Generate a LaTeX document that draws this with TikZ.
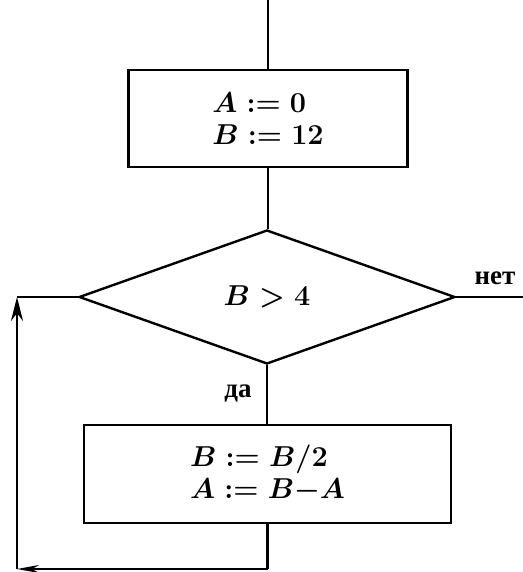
\documentclass[tikz,border=0pt]{standalone}
\usepackage{fontspec}
\newfontfamily\cyr{Liberation Serif}
\usetikzlibrary{shapes.geometric,arrows.meta}
\begin{document}
\begin{tikzpicture}[x=0.5pt,y=-0.5pt,
  line width=1.2pt,
  every node/.style={font=\fontsize{14}{16}\selectfont\boldmath},
  procbox/.style={draw, rectangle, inner sep=0pt, align=left},
  decision/.style={draw, diamond, inner sep=0pt},
  lbl/.style={font=\cyr\bfseries\fontsize{13.5}{16}\selectfont},
  uparrow/.style={-{Stealth[length=12pt,width=6pt]}},
  leftarrow/.style={-{Stealth[length=11pt,width=4pt]}}]
\useasboundingbox (0,0) rectangle (523,572);
\node[procbox, minimum width=139.5pt, minimum height=48.5pt] (b1) at (268,118.5)
  {$A:=0$\\ $B:=12$};
\node[decision, minimum width=188pt, minimum height=67pt] (d) at (267,297) {$B>4$};
\node[procbox, minimum width=183.5pt, minimum height=49pt] (b2) at (267.5,474)
  {$B:=B/2$\\ $A:=B{-}A$};
\node[lbl] (no) at (495,278) {нет};
\node[lbl] (yes) at (238,394) {да};
\coordinate (top) at (268,0);
\coordinate (noend) at (523,297);
\coordinate (c1) at (267.5,569);
\coordinate (c2) at (17,569);
\coordinate (c3) at (17,297);
\draw (top) -- (b1.north);
\draw (b1.south) -- (b1.south |- d.north);
\draw (d.south) -- (d.south |- b2.north);
\draw (d.east) -- (noend);
\draw (b2.south) -- (c1);
\draw[leftarrow] (c1) -- (c2);
\draw[uparrow] (c2) -- (c3);
\draw (c3) -- (d.west);
\end{tikzpicture}
\end{document}
